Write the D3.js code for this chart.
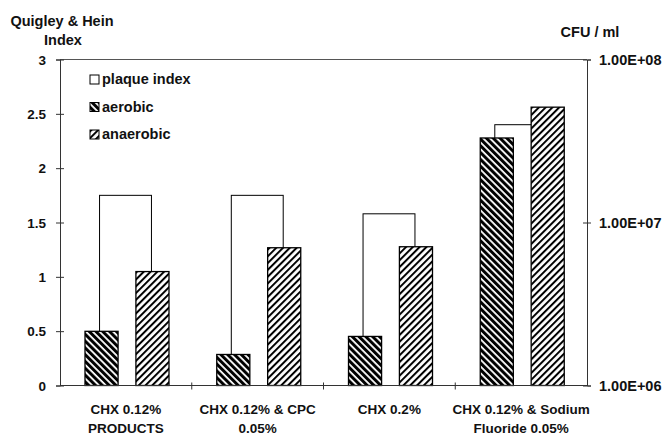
<!DOCTYPE html>
<html>
<head>
<meta charset="utf-8">
<script src="https://cdn.jsdelivr.net/npm/d3@7"></script>
<style>
  body { margin: 0; background: #fff; }
  text { font-family: "Liberation Sans", Arial, sans-serif; font-weight: bold; fill: #111; }
</style>
</head>
<body>
<div id="chart"></div>
<script>
const categories = [["CHX 0.12%", "PRODUCTS"], ["CHX 0.12% & CPC", "0.05%"], ["CHX 0.2%"], ["CHX 0.12% & Sodium", "Fluoride 0.05%"]];
const plaqueIndex = [1.75, 1.75, 1.58, 2.4];
const aerobic = [2.15e6, 1.55e6, 2.0e6, 3.3e7];
const anaerobic = [5.0e6, 7.0e6, 7.1e6, 5.1e7];
const leftTicks = [0, 0.5, 1, 1.5, 2, 2.5, 3];
const rightTicks = [1e6, 1e7, 1e8];

const width = 665, height = 435;
const margin = {top: 59.5, right: 78, bottom: 49.5, left: 60};
const plotRight = width - margin.right, plotBottom = height - margin.bottom;

const svg = d3.select("#chart").append("svg")
    .attr("width", width)
    .attr("height", height);

const defs = svg.append("defs");
function hatch(id, angle, lineWidth) {
    const p = defs.append("pattern")
        .attr("id", id)
        .attr("patternUnits", "userSpaceOnUse")
        .attr("width", 4.8)
        .attr("height", 4.8)
        .attr("patternTransform", "rotate(" + angle + ")");
    p.append("rect").attr("width", 4.8).attr("height", 4.8).attr("fill", "#fff");
    p.append("rect").attr("width", lineWidth).attr("height", 4.8).attr("fill", "#000");
}
hatch("hatchAerobic", -45, 3.0);
hatch("hatchAnaerobic", 45, 2.0);

const names = categories.map(function (c) { return c.join(" "); });

const x = d3.scaleBand()
    .domain(names)
    .range([margin.left, plotRight]);

const inner = d3.scaleBand()
    .domain(["aerobic", "anaerobic"])
    .range([25, 109])
    .paddingInner(0.35);

const yLeft = d3.scaleLinear()
    .domain([0, 3])
    .range([plotBottom, margin.top]);

const yRight = d3.scaleLog()
    .domain([1e6, 1e8])
    .range([plotBottom, margin.top]);

// frame top line
svg.append("line")
    .attr("x1", margin.left).attr("x2", plotRight)
    .attr("y1", margin.top).attr("y2", margin.top)
    .attr("stroke", "#555").attr("stroke-width", 1);

// plaque index bars (behind)
const bw = inner.bandwidth();
svg.append("g").selectAll("rect")
    .data(plaqueIndex)
    .join("rect")
    .attr("x", function (d, i) { return x(names[i]) + inner("aerobic") + bw / 2 - 2; })
    .attr("width", inner("anaerobic") - inner("aerobic") + 1)
    .attr("y", function (d) { return yLeft(d); })
    .attr("height", function (d) { return plotBottom - yLeft(d); })
    .attr("fill", "#fff")
    .attr("stroke", "#000")
    .attr("stroke-width", 1);

function addBars(values, key, fill) {
    svg.append("g").selectAll("rect")
        .data(values)
        .join("rect")
        .attr("x", function (d, i) { return x(names[i]) + inner(key); })
        .attr("width", bw)
        .attr("y", function (d) { return yRight(d); })
        .attr("height", function (d) { return plotBottom - yRight(d); })
        .attr("fill", fill)
        .attr("stroke", "#000")
        .attr("stroke-width", 1.3);
}
addBars(aerobic, "aerobic", "url(#hatchAerobic)");
addBars(anaerobic, "anaerobic", "url(#hatchAnaerobic)");

// left axis
const leftAxis = svg.append("g")
    .attr("transform", "translate(" + margin.left + ",0)")
    .call(d3.axisLeft(yLeft).tickValues(leftTicks).tickFormat(d3.format("")).tickSize(4).tickPadding(10));
leftAxis.select(".domain").attr("stroke", "#333");
leftAxis.selectAll(".tick line").attr("x2", 4).attr("x1", -4).attr("stroke", "#333");
leftAxis.selectAll(".tick text").style("font-size", "13.5px").attr("dy", "0.35em").attr("x", -14);

// right axis
const rightAxis = svg.append("g")
    .attr("transform", "translate(" + plotRight + ",0)")
    .call(d3.axisRight(yRight).tickValues(rightTicks).tickFormat(function (d) {
        return d.toExponential(2).toUpperCase().replace("E+", "E+0");
    }).tickSize(4));
rightAxis.select(".domain").attr("stroke", "#333");
rightAxis.selectAll(".tick line").attr("x1", -4).attr("x2", 4).attr("stroke", "#333");
rightAxis.selectAll(".tick text").style("font-size", "14.5px").attr("x", 12).attr("dy", "0.35em");

// bottom axis
svg.append("line")
    .attr("x1", margin.left).attr("x2", plotRight)
    .attr("y1", plotBottom).attr("y2", plotBottom)
    .attr("stroke", "#333");
svg.append("g").selectAll("line")
    .data(names.slice(1))
    .join("line")
    .attr("x1", function (d) { return x(d); })
    .attr("x2", function (d) { return x(d); })
    .attr("y1", plotBottom - 3)
    .attr("y2", plotBottom + 4)
    .attr("stroke", "#333");

const labels = svg.append("g").selectAll("text")
    .data(categories)
    .join("text")
    .attr("text-anchor", "middle")
    .style("font-size", "13.5px")
    .attr("transform", function (d, i) { return "translate(" + (x(names[i]) + x.bandwidth() / 2) + "," + (plotBottom + 28) + ")"; });
labels.selectAll("tspan")
    .data(function (d) { return d; })
    .join("tspan")
    .attr("x", 0)
    .attr("dy", function (d, i) { return i === 0 ? 0 : 19; })
    .text(function (d) { return d; });

// axis titles
svg.append("text").attr("x", 62).attr("y", 26).attr("text-anchor", "middle").style("font-size", "14.5px").text("Quigley & Hein");
svg.append("text").attr("x", 63).attr("y", 45).attr("text-anchor", "middle").style("font-size", "14.5px").text("Index");
svg.append("text").attr("x", 590).attr("y", 37).attr("text-anchor", "middle").style("font-size", "14.5px").text("CFU / ml");

// legend
const legendItems = [
    {label: "plaque index", fill: "#fff"},
    {label: "aerobic", fill: "url(#hatchAerobic)"},
    {label: "anaerobic", fill: "url(#hatchAnaerobic)"}
];
const legend = svg.append("g").selectAll("g")
    .data(legendItems)
    .join("g")
    .attr("transform", function (d, i) { return "translate(90," + (75 + i * 27.5) + ")"; });
legend.append("rect")
    .attr("width", 9).attr("height", 9)
    .attr("fill", function (d) { return d.fill; })
    .attr("stroke", "#000").attr("stroke-width", 1);
legend.append("text")
    .attr("x", 12).attr("y", 9)
    .style("font-size", "14.5px")
    .text(function (d) { return d.label; });
</script>
</body>
</html>
